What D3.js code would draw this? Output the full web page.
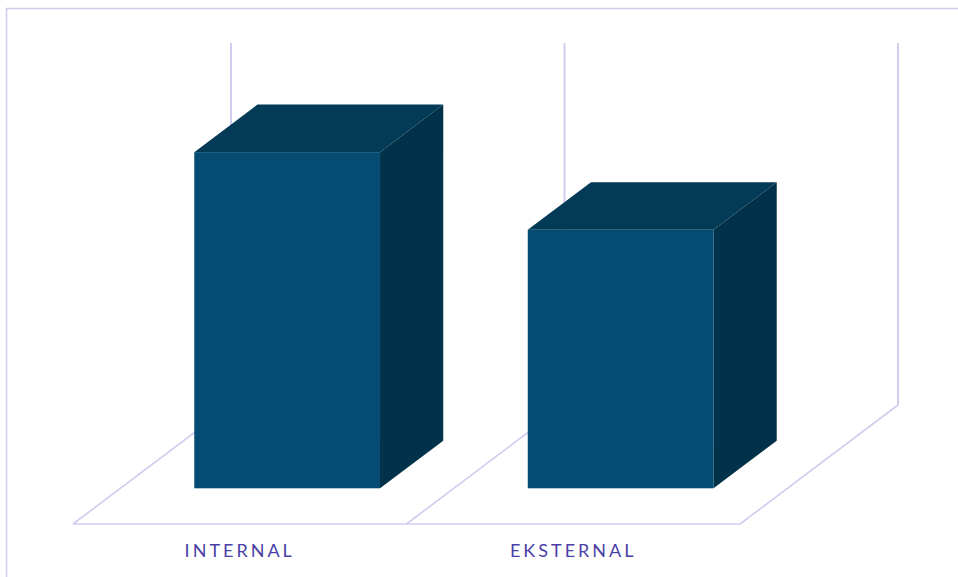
<!DOCTYPE html>
<html>
<head>
<meta charset="utf-8">
<script src="https://cdn.jsdelivr.net/npm/d3@7"></script>
<style>
  body { margin: 0; background: #fff; }
  svg { display: block; }
</style>
</head>
<body>
<script>
// data
const categories = ["INTERNAL", "EKSTERNAL"]
const values = [13, 10]
const yMax = 14

const W = 958, H = 577
// floor front edge + depth vector of the 3d box
const floorY = 524
const depthX = 158, depthY = -119
const barFrom = 0.3, barTo = 0.7   // bar sits in the middle of the depth
const barFrac = 0.557

const colFront = "#054c72", colTop = "#033a56", colSide = "#02324a"
const gridCol = "#d0ccf0"

const svg = d3.select("body").append("svg")
    .attr("width", W)
    .attr("height", H)

// outer border (runs past the right/bottom edge)
svg.append("rect")
    .attr("x", 6.5).attr("y", 8.5)
    .attr("width", 1000).attr("height", 1000)
    .attr("fill", "none")
    .attr("stroke", gridCol)
    .attr("stroke-width", 1.5)

const x = d3.scaleBand().domain(categories).range([73, 740]).padding(0)
const h = d3.scaleLinear().domain([0, yMax]).range([0, 362])

const edges = x.domain().map(d => x(d)).concat([x.range()[1]])

// floor: front line and diagonals
svg.append("line")
    .attr("x1", edges[0]).attr("x2", edges[edges.length - 1])
    .attr("y1", floorY).attr("y2", floorY)
    .attr("stroke", gridCol).attr("stroke-width", 1.6)

svg.selectAll(".diag")
    .data(edges)
    .enter()
    .append("line")
    .attr("class", "diag")
    .attr("x1", d => d).attr("y1", floorY)
    .attr("x2", d => d + depthX).attr("y2", floorY + depthY)
    .attr("stroke", gridCol).attr("stroke-width", 1.6)

// back wall verticals
svg.selectAll(".wall")
    .data(edges)
    .enter()
    .append("line")
    .attr("class", "wall")
    .attr("x1", d => d + depthX).attr("x2", d => d + depthX)
    .attr("y1", floorY + depthY).attr("y2", floorY + depthY - h(yMax))
    .attr("stroke", gridCol).attr("stroke-width", 2)

// bars
const bw = x.bandwidth() * barFrac
const bdx = depthX * (barTo - barFrom), bdy = depthY * (barTo - barFrom)

const bars = svg.selectAll(".bar")
    .data(categories.map((c, i) => ({ c: c, v: values[i] })))
    .enter()
    .append("g")
    .attr("class", "bar")

function geo(d) {
    const x0 = x(d.c) + depthX * barFrom + (x.bandwidth() - bw) / 2
    const y0 = floorY + depthY * barFrom
    const y1 = y0 - h(d.v)
    return { x0: x0, x1: x0 + bw, y0: y0, y1: y1 }
}

bars.append("path")
    .attr("fill", colTop)
    .attr("d", d => {
        const g = geo(d)
        return `M${g.x0},${g.y1}L${g.x1},${g.y1}L${g.x1 + bdx},${g.y1 + bdy}L${g.x0 + bdx},${g.y1 + bdy}Z`
    })

bars.append("path")
    .attr("fill", colSide)
    .attr("d", d => {
        const g = geo(d)
        return `M${g.x1},${g.y1}L${g.x1 + bdx},${g.y1 + bdy}L${g.x1 + bdx},${g.y0 + bdy}L${g.x1},${g.y0}Z`
    })

bars.append("rect")
    .attr("fill", colFront)
    .attr("x", d => geo(d).x0)
    .attr("y", d => geo(d).y1)
    .attr("width", bw)
    .attr("height", d => h(d.v))

// category labels
svg.selectAll(".lbl")
    .data(categories)
    .enter()
    .append("text")
    .attr("class", "lbl")
    .attr("x", d => x(d) + x.bandwidth() / 2)
    .attr("y", 557)
    .attr("text-anchor", "middle")
    .attr("font-family", "Lato, 'Open Sans', sans-serif")
    .attr("font-size", 18)
    .attr("letter-spacing", "3px")
    .attr("fill", "#4a3fa6")
    .text(d => d)
</script>
</body>
</html>
